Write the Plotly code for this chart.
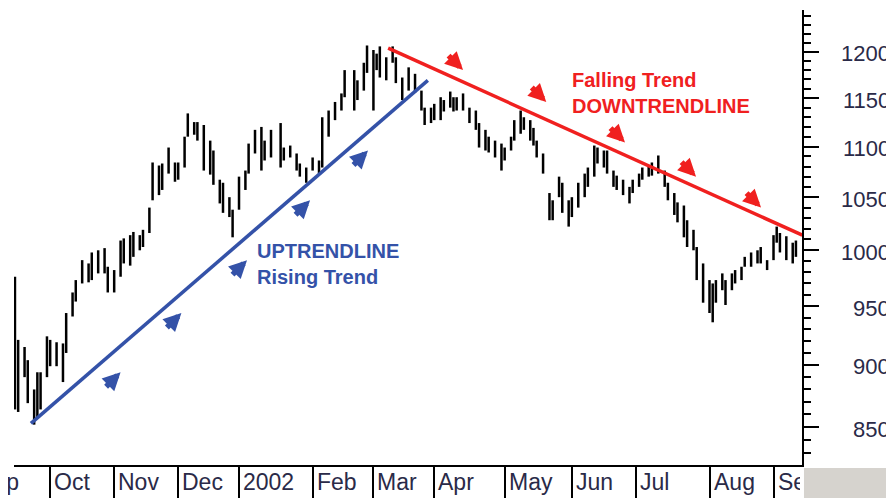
import numpy as np
import plotly.graph_objs as go

# trading-day index of each bar (first bar = day after the Sep 2001 reopening)
days = [0, 1, 3, 4, 6, 7, 8, 10, 11, 13, 15, 16, 18, 19, 21, 23, 24, 26, 28, 29,
        31, 33, 34, 36, 37, 39, 40, 42, 43, 45, 46, 48, 50, 51, 53, 54, 56, 57, 59, 61,
        62, 64, 65, 67, 68, 70, 72, 73, 75, 77, 78, 80, 83, 84, 86, 88, 89, 91, 93, 95,
        96, 98, 100, 102, 103, 106, 107, 109, 110, 112, 113, 114, 116, 118, 119, 121, 123, 125, 127, 128,
        130, 131, 133, 134, 136, 137, 138, 140, 142, 144, 145, 147, 148, 150, 152, 153, 155, 156, 158, 159,
        161, 162, 163, 165, 167, 168, 170, 171, 173, 174, 176, 178, 179, 181, 182, 184, 185, 187, 188, 190,
        192, 193, 195, 196, 198, 199, 201, 203, 204, 206, 207, 209, 210, 212, 213, 215, 217, 218, 219, 221,
        222, 224, 225, 227, 228, 230, 232, 233, 235, 237, 238, 239, 241, 243, 244]

highs = [976, 921, 915, 904, 880, 894, 894, 924, 921, 919, 918, 944, 962, 973, 991, 988, 998, 1000, 1002, 985,
         982, 1009, 1011, 1014, 1017, 1014, 1019, 1040, 1084, 1081, 1083, 1099, 1084, 1084, 1110, 1134, 1125, 1125, 1122, 1106,
         1096, 1067, 1064, 1050, 1038, 1070, 1076, 1103, 1117, 1120, 1106, 1117, 1124, 1099, 1101, 1093, 1083, 1079, 1089, 1086,
         1130, 1137, 1146, 1155, 1180, 1180, 1169, 1188, 1207, 1202, 1198, 1206, 1194, 1206, 1194, 1172, 1183, 1176, 1158, 1140,
         1140, 1144, 1151, 1148, 1157, 1151, 1151, 1155, 1140, 1137, 1124, 1117, 1110, 1106, 1103, 1099, 1110, 1127, 1137, 1130,
         1127, 1119, 1106, 1093, 1054, 1047, 1070, 1064, 1047, 1050, 1064, 1073, 1079, 1101, 1099, 1096, 1096, 1076, 1071, 1067,
         1060, 1067, 1073, 1079, 1081, 1084, 1091, 1076, 1064, 1054, 1045, 1042, 1028, 1019, 1003, 988, 973, 970, 973, 979,
         973, 979, 982, 985, 994, 998, 1000, 1003, 991, 1014, 1022, 1016, 1013, 1007, 1009]

lows = [864, 862, 890, 869, 852, 858, 864, 890, 899, 899, 886, 910, 941, 954, 970, 971, 973, 979, 979, 962,
        962, 976, 988, 986, 994, 1000, 1003, 1016, 1047, 1052, 1057, 1073, 1065, 1067, 1079, 1110, 1112, 1106, 1076, 1072,
        1062, 1044, 1035, 1031, 1012, 1038, 1057, 1073, 1093, 1076, 1086, 1089, 1079, 1086, 1089, 1076, 1070, 1064, 1076, 1073,
        1079, 1110, 1127, 1137, 1151, 1137, 1148, 1158, 1177, 1137, 1180, 1172, 1169, 1188, 1166, 1148, 1158, 1156, 1137, 1122,
        1124, 1127, 1127, 1136, 1140, 1136, 1137, 1137, 1124, 1117, 1099, 1096, 1094, 1089, 1076, 1086, 1096, 1106, 1113, 1117,
        1106, 1101, 1089, 1073, 1028, 1028, 1050, 1035, 1022, 1031, 1040, 1050, 1060, 1070, 1083, 1079, 1073, 1060, 1057, 1052,
        1044, 1054, 1060, 1067, 1070, 1071, 1073, 1060, 1047, 1033, 1026, 1012, 1003, 1000, 973, 953, 944, 936, 953, 964,
        951, 964, 970, 973, 985, 985, 988, 988, 982, 991, 1007, 998, 991, 988, 994]

month_start = [11, 31, 51, 70, 93, 112, 131, 153, 174, 194, 217, 237]
month_labels = ["Oct", "Nov", "Dec", "2002", "Feb", "Mar", "Apr", "May", "Jun", "Jul", "Aug", "Sep"]

price_ticks = [850, 900, 950, 1000, 1050, 1100, 1150, 1200]
minor_ticks = [v for v in range(830, 1250, 10) if v % 50 != 0]

# trendlines
up_days = [5, 129]
up_vals = [853, 1169]
down_days = [116.6, 246]
down_vals = [1204, 1014]

# arrow tips
up_arrow_days = [33, 52, 72.5, 92.2, 110.3]
up_arrow_vals = [894, 944, 991, 1047, 1096]
down_arrow_days = [140, 166, 190.6, 212.8, 233.1]
down_arrow_vals = [1180, 1146, 1104, 1070, 1040]

BLUE = "#3452a8"
RED = "#f0201f"
TXT = "#2a2a48"

# high-low bars as one broken line
bx, by = [], []
for d, h, l in zip(days, highs, lows):
    bx += [d, d, None]
    by += [h, l, None]

fig = go.Figure()
fig.add_trace(go.Scatter(x=bx, y=by, mode="lines", line=dict(color="black", width=2.5),
                         hoverinfo="skip", showlegend=False))
fig.add_trace(go.Scatter(x=up_days, y=up_vals, mode="lines", line=dict(color=BLUE, width=3.5),
                         hoverinfo="skip", showlegend=False))
fig.add_trace(go.Scatter(x=down_days, y=down_vals, mode="lines", line=dict(color=RED, width=3.5),
                         hoverinfo="skip", showlegend=False))

ann = []
for d, v in zip(up_arrow_days, up_arrow_vals):
    ann.append(dict(x=d, y=np.log10(v), xref="x", yref="y", text="", showarrow=True,
                    ax=-16, ay=16, arrowhead=2, arrowsize=0.65, arrowwidth=5.5, arrowcolor=BLUE))
for d, v in zip(down_arrow_days, down_arrow_vals):
    ann.append(dict(x=d, y=np.log10(v), xref="x", yref="y", text="", showarrow=True,
                    ax=-16, ay=-16, arrowhead=2, arrowsize=0.65, arrowwidth=5.5, arrowcolor=RED))

ann.append(dict(x=75, y=np.log10(1011), xref="x", yref="y", xanchor="left", yanchor="top",
                text="UPTRENDLINE<br>Rising Trend", showarrow=False, align="left",
                font=dict(family="Liberation Sans", size=20, color=BLUE, weight="bold")))
ann.append(dict(x=173.5, y=np.log10(1183), xref="x", yref="y", xanchor="left", yanchor="top",
                text="Falling Trend<br>DOWNTRENDLINE", showarrow=False, align="left",
                font=dict(family="Liberation Sans", size=20, color=RED, weight="bold")))

# month labels sit to the right of each separator tick
for i, (d, lab) in enumerate(zip(month_start, month_labels)):
    a = dict(x=d, y=0, xref="x", yref="paper", xanchor="left", yanchor="middle",
             xshift=2, yshift=-16.5, text=lab, showarrow=False,
             font=dict(family="Liberation Sans", size=23, color=TXT))
    if i == len(month_labels) - 1:
        a["width"] = 22
        a["align"] = "left"
    ann.append(a)
ann.append(dict(x=-0.048, y=0, xref="paper", yref="paper", xanchor="left", yanchor="middle",
                yshift=-16.5, text="Sep", showarrow=False,
                font=dict(family="Liberation Sans", size=23, color=TXT)))

# price labels, right aligned
for v in price_ticks:
    ann.append(dict(x=1.1142, y=np.log10(v), xref="paper", yref="y", xanchor="right",
                    yanchor="middle", yshift=-2, text=str(v), showarrow=False,
                    font=dict(family="Liberation Sans", size=22, color=TXT)))

# the page body adds an 8px offset, so margins are reduced on the left/top
fig.update_layout(
    width=894, height=498, autosize=False,
    margin=dict(l=6, r=100, t=2, b=41),
    paper_bgcolor="white", plot_bgcolor="white",
    showlegend=False,
    annotations=ann,
    shapes=[dict(type="rect", xref="paper", yref="paper", x0=1.0025, x1=1.2, y0=-0.2, y1=-0.0066,
                 fillcolor="#d6d3ce", line=dict(width=0), layer="above")],
)
fig.update_xaxes(range=[-0.3, 245.9], showgrid=False, zeroline=False, showline=True,
                 linecolor="black", linewidth=2, tickmode="array", tickvals=month_start,
                 ticks="outside", ticklen=35, tickwidth=2, tickcolor="black",
                 showticklabels=False, fixedrange=True)
fig.update_yaxes(type="log", range=[np.log10(821), np.log10(1247)], side="right",
                 showgrid=False, zeroline=False, showline=True, linecolor="black", linewidth=2,
                 tickmode="array", tickvals=price_ticks, ticks="outside", ticklen=15,
                 tickwidth=2, tickcolor="black", showticklabels=False,
                 minor=dict(tickmode="array", tickvals=minor_ticks, ticks="outside",
                            ticklen=7, tickwidth=2, tickcolor="black"))

fig.write_html("out.html")
